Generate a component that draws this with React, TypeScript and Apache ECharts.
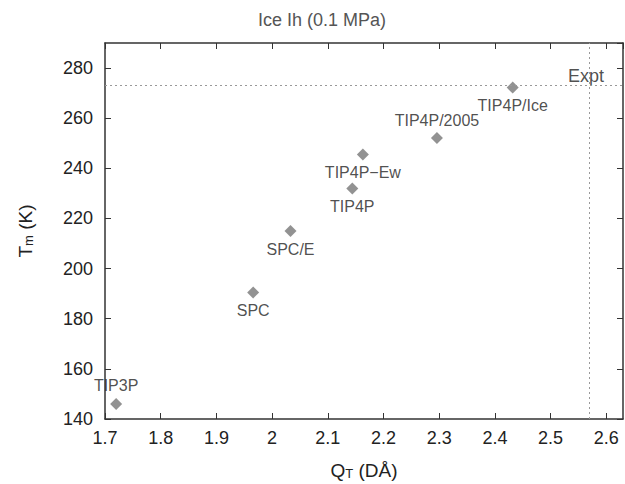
import React, { useEffect, useRef } from "react";
import * as echarts from "echarts";

const models = ["TIP3P", "SPC", "SPC/E", "TIP4P", "TIP4P\u2212Ew", "TIP4P/2005", "TIP4P/Ice"];
const qtValues = [1.72, 1.966, 2.033, 2.144, 2.163, 2.296, 2.432];
const tmValues = [146, 190.5, 215, 232, 245.5, 252.1, 272.2];
const labelSide = ["top", "bottom", "bottom", "bottom", "bottom", "top", "bottom"];
const exptQ = 2.567;
const exptT = 273.15;
const xTicks = [1.7, 1.8, 1.9, 2, 2.1, 2.2, 2.3, 2.4, 2.5, 2.6];
const titleText = "Ice Ih (0.1 MPa)";

const FONT = "'Liberation Sans', Arial, Helvetica, sans-serif";

export default function App() {
  const ref = useRef<HTMLDivElement>(null);
  useEffect(() => {
    const chart = echarts.init(ref.current!, null, { renderer: "svg" });
    const axisLine = { show: true, onZero: false, lineStyle: { color: "#333", width: 1.5 } };
    const tickInside = { show: true, inside: true, length: 6, lineStyle: { color: "#333", width: 1 } };
    const subRich = { sub: { fontFamily: FONT, fontSize: 13, color: "#222", padding: [6, 0, 0, 0] } };
    chart.setOption({
      animation: false,
      graphic: [
        {
          type: "text",
          left: 258,
          top: 11,
          style: { text: titleText, fontFamily: FONT, fontSize: 18, fill: "#555" },
        },
      ],
      grid: { left: 105, right: 2, top: 43, bottom: 65, containLabel: false, outerBoundsMode: "none" },
      xAxis: [
        {
          type: "value",
          min: 1.7,
          max: 2.63,
          interval: 0.1,
          axisLine,
          axisTick: tickInside,
          splitLine: { show: false },
          axisLabel: {
            showMaxLabel: false,
            fontFamily: FONT,
            fontSize: 18,
            color: "#222",
            margin: 10,
            formatter: (v: number) => {
              const r = Math.round(v * 10) / 10;
              return xTicks.includes(r) ? String(r) : "";
            },
          },
          name: "Q{sub|T} (DÅ)",
          nameLocation: "middle",
          nameGap: 42,
          nameTextStyle: { fontFamily: FONT, fontSize: 19, color: "#222", rich: subRich },
        },
        {
          type: "value",
          position: "top",
          min: 1.7,
          max: 2.63,
          interval: 0.1,
          axisLine,
          axisTick: tickInside,
          axisLabel: { show: false },
          splitLine: { show: false },
        },
      ],
      yAxis: [
        {
          type: "value",
          min: 140,
          max: 290,
          interval: 20,
          axisLine,
          axisTick: tickInside,
          splitLine: { show: false },
          axisLabel: { showMaxLabel: false, fontFamily: FONT, fontSize: 18, color: "#222", margin: 12 },
          name: "T{sub|m} (K)",
          nameLocation: "middle",
          nameGap: 70,
          nameRotate: 90,
          nameTextStyle: { fontFamily: FONT, fontSize: 19, color: "#222", rich: subRich },
        },
        {
          type: "value",
          position: "right",
          min: 140,
          max: 290,
          interval: 20,
          axisLine,
          axisTick: tickInside,
          axisLabel: { show: false },
          splitLine: { show: false },
        },
      ],
      series: [
        {
          type: "scatter",
          symbol: "diamond",
          symbolSize: 12,
          itemStyle: { color: "#777" },
          data: models.map((m, i) => ({
            value: [qtValues[i], tmValues[i]],
            name: m,
            label: {
              show: true,
              position: labelSide[i],
              distance: 4,
              formatter: m,
              fontFamily: FONT,
              fontSize: 16,
              color: "#222",
            },
          })),
          markLine: {
            silent: true,
            symbol: "none",
            label: { show: false },
            lineStyle: { color: "#999", type: [2, 3], width: 1 },
            data: [{ yAxis: exptT }, { xAxis: exptQ }],
          },
          z: 3,
        },
        {
          type: "scatter",
          symbolSize: 0,
          data: [
            {
              value: [exptQ, exptT],
              label: {
                show: true,
                position: "top",
                distance: 0,
                offset: [-2, 0],
                formatter: "Expt",
                fontFamily: FONT,
                fontSize: 18,
                color: "#222",
              },
            },
          ],
        },
      ],
    });
    return () => chart.dispose();
  }, []);
  return (
    <div
      ref={ref}
      style={{ position: "absolute", left: 0, top: 0, width: 625, height: 484 }}
    />
  );
}
